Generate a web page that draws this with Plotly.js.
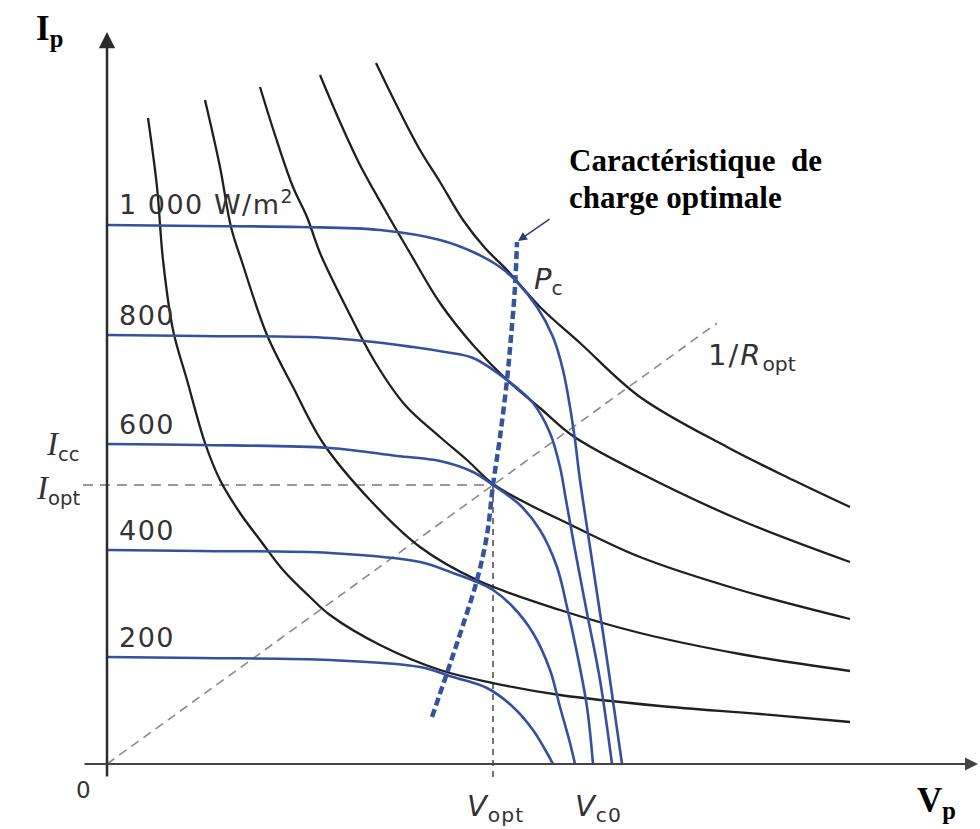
<!DOCTYPE html>
<html>
<head>
<meta charset="utf-8">
<script src="https://cdn.plot.ly/plotly-3.0.1.min.js"></script>
<style>
  html, body { margin: 0; padding: 0; background: #ffffff; }
  #chart { width: 980px; height: 829px; }
</style>
</head>
<body>
<div id="chart"></div>
<script>
// ---- Photovoltaic I-V characteristics (arbitrary units: V horizontal, I vertical) ----

// Irradiance levels (W/m²) of the I-V curves
const irradiance = [1000, 800, 600, 400, 200];
const irradianceLabels = ['1\u00a0000 W/m<sup>2</sup>', '800', '600', '400', '200'];

// I-V curves, one pair of arrays per irradiance
const iv1000_V = [0, 9.3, 19.3, 27.3, 33.3, 36.6, 39.3, 41.0, 43.0, 44.6, 45.6, 46.3, 46.8, 47.3, 48.3, 49.3, 50.3, 51.5];
const iv1000_I = [53.9, 53.8, 53.7, 53.4, 52.4, 51.2, 49.7, 48.2, 45.7, 42.7, 39.4, 35.7, 32.4, 28.4, 21.7, 15.1, 8.4, 0];

const iv800_V = [0, 9.3, 22.3, 30.6, 33.8, 36.6, 40.0, 42.6, 44.3, 45.3, 45.9, 46.8, 48.0, 49.3, 50.5];
const iv800_I = [42.9, 42.8, 42.6, 41.7, 41.2, 40.6, 38.4, 36.1, 33.1, 29.7, 26.4, 21.4, 15.1, 8.4, 0];

const iv600_V = [0, 9.3, 22.3, 29.0, 33.3, 36.6, 38.6, 41.3, 43.3, 45.0, 46.0, 47.0, 48.0, 48.6];
const iv600_I = [32.0, 31.9, 31.6, 30.8, 30.3, 29.2, 27.9, 25.9, 23.4, 19.7, 15.7, 11.1, 5.7, 0];

const iv400_V = [0, 9.3, 22.3, 31.3, 34.6, 37.0, 38.6, 40.6, 42.6, 44.3, 45.3, 46.3, 46.8];
const iv400_I = [21.4, 21.3, 21.1, 20.2, 19.1, 18.2, 17.4, 15.7, 13.1, 9.4, 5.7, 2.1, 0];

const iv200_V = [0, 9.3, 22.3, 31.3, 34.6, 38.0, 40.6, 42.6, 44.0, 44.6];
const iv200_I = [10.7, 10.6, 10.4, 9.7, 8.7, 7.6, 5.7, 3.4, 1.1, 0];

// Constant-power curves (one per irradiance, lowest power first)
const pw1_V = [4.1, 5.0, 5.6, 6.6, 8.0, 9.8, 11.3, 13.3, 15.3, 17.6, 20.3, 22.3, 27.3, 33.3, 38.6, 45.3, 55.3, 65.3, 74.3];
const pw1_I = [64.6, 57.7, 50.4, 43.4, 38.4, 32.1, 28.4, 25.1, 22.4, 19.4, 16.7, 14.9, 11.9, 9.4, 8.1, 6.9, 5.8, 5.0, 4.2];

const pw2_V = [9.8, 11.3, 12.4, 13.5, 16.0, 18.6, 21.6, 26.3, 31.3, 37.0, 45.3, 53.3, 63.3, 74.3];
const pw2_I = [66.4, 59.7, 53.7, 50.2, 42.9, 37.7, 32.1, 26.4, 21.7, 18.4, 15.4, 13.1, 11.0, 9.3];

const pw3_V = [15.3, 16.8, 18.6, 20.0, 21.3, 23.8, 26.8, 29.8, 33.3, 36.0, 38.6, 42.3, 46.0, 53.3, 63.3, 74.3];
const pw3_I = [67.7, 62.9, 57.7, 54.7, 51.1, 45.9, 40.2, 35.9, 32.7, 30.4, 28.0, 25.9, 24.1, 20.7, 17.4, 14.5];

const pw4_V = [21.3, 23.3, 25.3, 27.8, 30.3, 33.3, 36.6, 40.0, 43.3, 46.6, 53.3, 63.3, 74.3];
const pw4_I = [68.9, 64.2, 59.9, 55.4, 51.1, 46.1, 41.9, 38.4, 35.6, 32.8, 29.1, 24.4, 20.2];

const pw5_V = [26.9, 29.3, 31.3, 33.3, 35.6, 37.8, 40.0, 43.3, 47.3, 53.3, 62.0, 68.6, 74.3];
const pw5_I = [70.1, 65.2, 61.4, 58.2, 54.4, 51.6, 49.4, 45.7, 42.1, 36.7, 31.7, 28.4, 25.7];

// Optimal load characteristic (through the maximum power points)
const load_V = [32.5, 34.0, 35.5, 37.0, 38.0, 38.6, 39.3, 40.0, 40.4, 40.8, 41.0];
const load_I = [4.7, 9.1, 13.6, 18.4, 22.9, 27.9, 32.7, 38.4, 42.7, 47.7, 52.2];

// Operating point at 600 W/m² and the 1/Ropt line end
const V_OPT = 38.6;
const I_OPT = 27.9;
const ROPT_LINE_END_V = 61.0;

// ---- styling ----
const BLUE = '#34509f';
const BLACK = '#1f1f1f';
const TEXT = '#333333';
const SANS = 'DejaVu Sans, Arial, sans-serif';
const SERIF = 'Liberation Serif, Times New Roman, serif';

const traces = [];

function curve(x, y, color, width, dash) {
  return {
    type: 'scatter', mode: 'lines', x: x, y: y,
    line: { color: color, width: width, shape: 'spline', smoothing: 1, dash: dash || 'solid' },
    hoverinfo: 'skip'
  };
}

// 1/Ropt line from the origin through the optimal point
traces.push({
  type: 'scatter', mode: 'lines',
  x: [0, ROPT_LINE_END_V],
  y: [0, ROPT_LINE_END_V * I_OPT / V_OPT],
  line: { color: '#8a8a8a', width: 1.6, dash: '9px,6px' }, hoverinfo: 'skip'
});
// Iopt and Vopt guide lines
traces.push({
  type: 'scatter', mode: 'lines', x: [-2.4, V_OPT], y: [I_OPT, I_OPT],
  line: { color: '#7a7a7a', width: 1.6, dash: '10px,7px' }, hoverinfo: 'skip'
});
traces.push({
  type: 'scatter', mode: 'lines', x: [V_OPT, V_OPT], y: [I_OPT, -1.4],
  line: { color: '#3a3a3a', width: 1.4, dash: '6px,5px' }, hoverinfo: 'skip'
});

// constant-power curves
[[pw1_V, pw1_I], [pw2_V, pw2_I], [pw3_V, pw3_I], [pw4_V, pw4_I], [pw5_V, pw5_I]].forEach(function (c) {
  traces.push(curve(c[0], c[1], BLACK, 2.3));
});

// I-V curves
const ivV = [iv1000_V, iv800_V, iv600_V, iv400_V, iv200_V];
const ivI = [iv1000_I, iv800_I, iv600_I, iv400_I, iv200_I];
ivV.forEach(function (vx, k) {
  traces.push(curve(vx, ivI[k], BLUE, 2.6));
});

// optimal load characteristic
traces.push(curve(load_V, load_I, '#35549f', 4.5, '8px,4px'));

// ---- annotations ----
const annotations = [];

function label(text, x, y, opts) {
  const a = Object.assign({
    xref: 'x', yref: 'y', x: x, y: y, text: text, showarrow: false,
    xanchor: 'center', yanchor: 'middle',
    font: { family: SANS, size: 27, color: TEXT }
  }, opts || {});
  annotations.push(a);
}

// axes drawn as arrows
annotations.push({
  xref: 'x', yref: 'y', axref: 'x', ayref: 'y',
  x: 0, y: 73.2, ax: 0, ay: -1.4, text: '', showarrow: true,
  arrowhead: 2, arrowsize: 1.3, arrowwidth: 2.5, arrowcolor: '#2b2b2b', standoff: 0
});
annotations.push({
  xref: 'x', yref: 'y', axref: 'x', ayref: 'y',
  x: 87.1, y: 0, ax: -2.4, ay: 0, text: '', showarrow: true,
  arrowhead: 2, arrowsize: 1.3, arrowwidth: 2, arrowcolor: '#444444', standoff: 0
});

// irradiance labels above each plateau
irradianceLabels.forEach(function (t, k) {
  label('<span style="letter-spacing:1.5px">' + t + '</span>', 1.0, ivI[k][0] + 2.0 + (k === 0 ? 0.3 : 0),
    { xanchor: 'left' });
});

label('0', -2.4, -2.6, { font: { family: SANS, size: 23, color: TEXT } });
label('<span style="font-family:' + SERIF + ';font-size:33px"><i>I</i></span><sub>cc</sub>', -2.5, 31.8,
  { xanchor: 'right', font: { family: SANS, size: 28, color: TEXT } });
label('<span style="font-family:' + SERIF + ';font-size:33px"><i>I</i></span><sub>opt</sub>', -2.5, 27.4,
  { xanchor: 'right', font: { family: SANS, size: 28, color: TEXT } });
label('<span style="letter-spacing:1px"><i>V</i><sub>opt</sub></span>', V_OPT + 0.2, -4.4,
  { font: { family: SANS, size: 29, color: TEXT } });
label('<span style="letter-spacing:1px"><i>V</i><sub>c0</sub></span>', 49.1, -4.4,
  { font: { family: SANS, size: 29, color: TEXT } });
label('<i>P</i><sub>c</sub>', 44.1, 48.3, { font: { family: SANS, size: 29, color: TEXT } });
label('<span style="letter-spacing:2px">1/<i>R</i></span><sub>opt</sub>', 64.5, 40.7,
  { font: { family: SANS, size: 29, color: TEXT } });

// bold axis titles
label('<b>I<sub>p</sub></b>', -5.8, 73.4, { font: { family: SERIF, size: 35, color: '#000000' } });
label('<b>V<sub>p</sub></b>', 82.9, -3.8, { font: { family: SERIF, size: 35, color: '#000000' } });

// caption with its arrow to the optimal load characteristic
label('<b>Caractéristique\u00a0\u00a0de</b>', 46.0, 60.4,
  { xanchor: 'left', font: { family: SERIF, size: 31, color: '#000000' } });
label('<b>charge optimale</b>', 46.0, 56.7,
  { xanchor: 'left', font: { family: SERIF, size: 31, color: '#000000' } });
annotations.push({
  xref: 'x', yref: 'y', axref: 'x', ayref: 'y',
  x: load_V[load_V.length - 1] + 0.1, y: load_I[load_I.length - 1] + 0.1,
  ax: 44.4, ay: 54.6, text: '', showarrow: true,
  arrowhead: 2, arrowsize: 1.2, arrowwidth: 1.5, arrowcolor: '#2d3d6e', standoff: 0
});

const layout = {
  width: 980, height: 829,
  margin: { l: 0, r: 0, t: 0, b: 0 },
  paper_bgcolor: '#ffffff', plot_bgcolor: '#ffffff',
  showlegend: false, hovermode: false,
  xaxis: { range: [-10.7, 87.3], visible: false, fixedrange: true },
  yaxis: { range: [-6.5, 76.4], visible: false, fixedrange: true },
  annotations: annotations
};

Plotly.newPlot('chart', traces, layout, { staticPlot: true, displayModeBar: false });
</script>
</body>
</html>
